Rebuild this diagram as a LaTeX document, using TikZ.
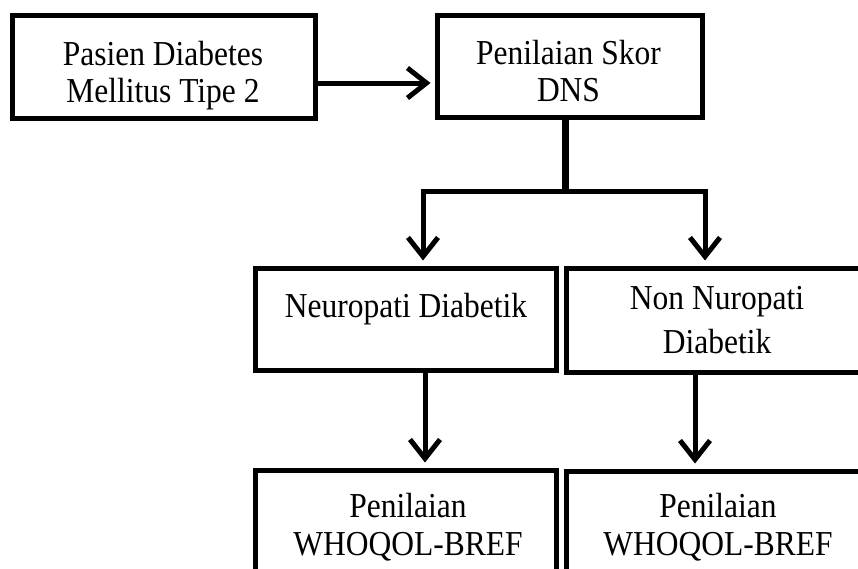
\documentclass[tikz,border=0pt]{standalone}
\usepackage{fontspec}
\setmainfont{Liberation Serif}[FakeStretch=0.9]
\usetikzlibrary{arrows.meta,calc}
\begin{document}
\begin{tikzpicture}[x=1pt,y=-1pt,
  box/.style={draw=black, line width=5pt, fill=none, inner sep=0pt},
  txt/.style={align=center, inner sep=0pt, font=\fontsize{35}{38}\selectfont},
  conn/.style={draw=black, line width=5pt, line join=miter},
  trunk/.style={draw=black, line width=7pt},
  arr/.style={conn, -{Straight Barb[length=19pt,width=30pt]}}]
\fill[white] (0,0) rectangle (858,568);
\useasboundingbox (0,0) rectangle (858,568);
% boxes
\node[box, minimum width=303pt, minimum height=103pt] (A) at (163.5,66.5) {};
\node[box, minimum width=265pt, minimum height=102pt] (B) at (569.5,66) {};
\node[box, minimum width=301pt, minimum height=102pt] (C) at (405.5,319) {};
\node[box, minimum width=302pt, minimum height=104pt] (D) at (717,320) {};
\node[box, minimum width=301pt, minimum height=102pt] (E) at (405.5,521) {};
\node[box, minimum width=302pt, minimum height=102pt] (F) at (717,522) {};
% texts
\node[txt, font=\fontsize{35}{37}\selectfont] (At) at (163,75.5) {Pasien Diabetes\\Mellitus Tipe 2};
\node[txt, font=\fontsize{35}{37}\selectfont] (Bt) at (568.5,71.5) {Penilaian Skor\\DNS};
\node[txt] (Ct) at (406,308.9) {Neuropati Diabetik};
\node[txt, font=\fontsize{35}{44}\selectfont] (Dt) at (717,320) {Non Nuropati\\Diabetik};
\node[txt] (Et) at (408,527) {Penilaian\\WHOQOL-BREF};
\node[txt] (Ft) at (718,527) {Penilaian\\WHOQOL-BREF};
% connectors
\coordinate (ab) at ($(A.east)+(0,16.5)$);
\draw[arr] (ab) -- ($(ab -| B.west)+(-4,0)$);
\coordinate (j) at (565,191);
\coordinate (jl) at (423,191);
\coordinate (jr) at (705,191);
\draw[trunk] (j |- B.south) -- (j);
\draw[arr] (j) -- (jl) -- ($(jl |- C.north)+(0,-5)$);
\draw[arr] (j) -- (jr) -- ($(jr |- D.north)+(0,-5)$);
\coordinate (cs) at (425,0);
\coordinate (ds) at (695,0);
\draw[arr] (cs |- C.south) -- ($(cs |- E.north)+(0,-5)$);
\draw[arr] (ds |- D.south) -- ($(ds |- F.north)+(0,-5)$);
\end{tikzpicture}
\end{document}
